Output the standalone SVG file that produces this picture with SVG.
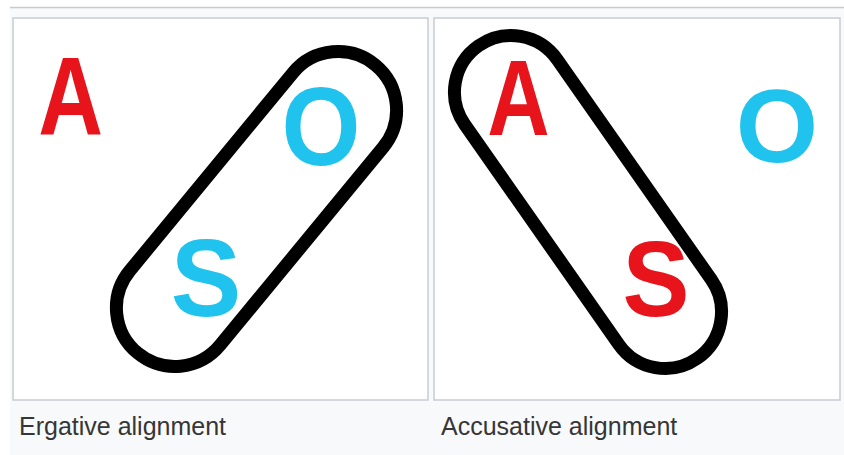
<svg xmlns="http://www.w3.org/2000/svg" width="844" height="455" viewBox="0 0 844 455">
  <style>
    .panel { fill: #ffffff; stroke: #c8ccd1; stroke-width: 1.5; }
    .pill { fill: none; stroke: #000000; stroke-width: 13; }
    .big { font-family: "Liberation Sans", Arial, sans-serif; font-weight: bold; font-size: 108px; text-anchor: middle; }
    .red { fill: #e8141c; }
    .cyan { fill: #1fc3ee; }
    .cap { font-family: "Liberation Sans", Arial, sans-serif; font-size: 25px; fill: #363636; }
  </style>
  <rect x="0" y="0" width="844" height="455" fill="#ffffff"/>
  <rect x="10" y="7" width="834" height="448" fill="#f8f9fa"/>
  <line x1="10" y1="7.5" x2="844" y2="7.5" stroke="#c8ccd1" stroke-width="1.5"/>

  <g id="ergative-panel">
    <rect class="panel" x="13" y="18" width="415" height="382"/>
    <g id="erg-A"><text class="big red" transform="translate(70.5,135) scale(0.83,1.03)">A</text></g>
    <g id="erg-O"><text class="big cyan" transform="translate(321,165) scale(0.94,1.03)">O</text></g>
    <g id="erg-S"><text class="big cyan" transform="translate(206,316) scale(0.98,1.02)">S</text></g>
    <g id="erg-pill"><rect class="pill" x="69.75" y="150.5" width="373.5" height="117" rx="58.5" transform="rotate(-50.5 256.5 209)"/></g>
    <text class="cap" x="19" y="435">Ergative alignment</text>
  </g>

  <g id="accusative-panel">
    <rect class="panel" x="434" y="18" width="406" height="382"/>
    <g id="acc-A"><text class="big red" transform="translate(518.5,135) scale(0.8,0.99)">A</text></g>
    <g id="acc-O"><text class="big cyan" transform="translate(777,162) scale(0.98,0.96)">O</text></g>
    <g id="acc-S"><text class="big red" transform="translate(656,316) scale(0.93,1)">S</text></g>
    <g id="acc-pill"><rect class="pill" x="397.25" y="145.5" width="381.5" height="113" rx="56.5" transform="rotate(55 588 202)"/></g>
    <text class="cap" x="441" y="435">Accusative alignment</text>
  </g>
</svg>
